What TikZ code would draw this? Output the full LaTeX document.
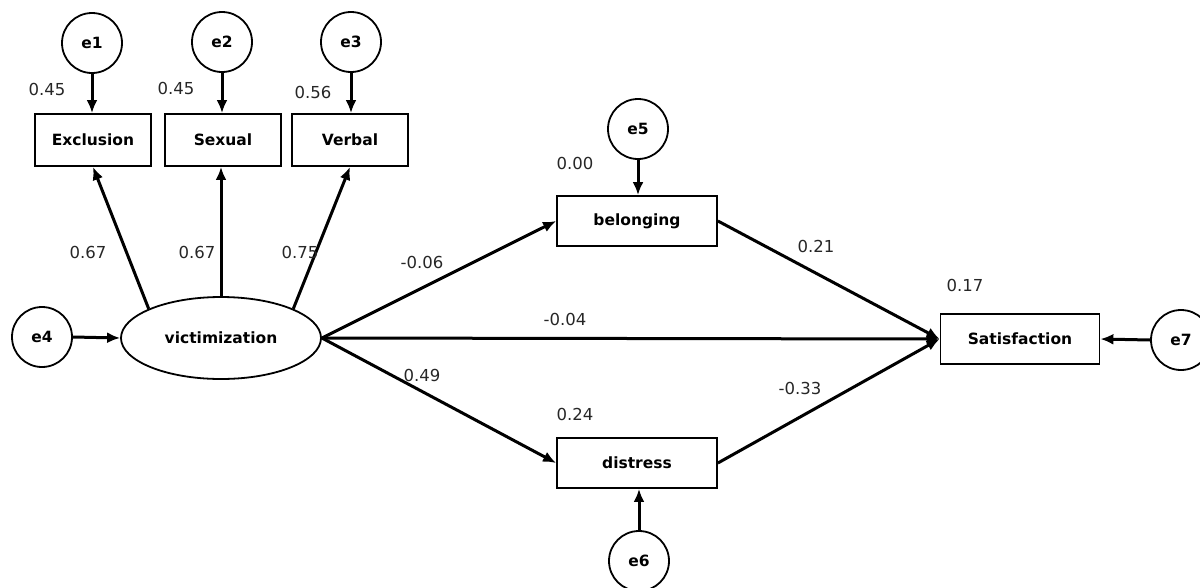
\documentclass[tikz,border=0pt]{standalone}
\usepackage{fontspec}
\setmainfont{DejaVu Sans}
\usetikzlibrary{arrows.meta,shapes.geometric}
\begin{document}
\begin{tikzpicture}[x=1pt,y=-1pt,
  lbl/.style={font=\bfseries\fontsize{15.5}{18}\selectfont},
  errc/.style={circle,draw,line width=1.8pt,minimum size=60pt,inner sep=0pt,lbl},
  obs/.style={rectangle,draw,line width=1.8pt,minimum width=116pt,minimum height=52pt,inner sep=0pt,lbl},
  wide/.style={obs,minimum width=160pt,minimum height=50pt},
  lat/.style={ellipse,draw,line width=1.8pt,minimum width=200pt,minimum height=82pt,inner sep=0pt,lbl},
  pth/.style={line width=3pt,-{Latex[length=13pt,width=11pt]}},
  coef/.style={inner sep=0pt,font=\fontsize{16.5}{19}\selectfont,text=black!85}]
\useasboundingbox (0,0) rectangle (1200,587);
% nodes
\node[errc] (e1) at (92,43) {e1};
\node[errc] (e2) at (222,42) {e2};
\node[errc] (e3) at (351,42) {e3};
\node[obs] (exc) at (93,140) {Exclusion};
\node[obs] (sex) at (223,140) {Sexual};
\node[obs] (ver) at (350,140) {Verbal};
\node[errc] (e4) at (42,337) {e4};
\node[lat] (vic) at (221,338) {victimization};
\node[errc] (e5) at (638,129) {e5};
\node[wide] (bel) at (637,221) {belonging};
\node[wide] (dis) at (637,463) {distress};
\node[errc] (e6) at (639,561) {e6};
\node[wide,minimum width=159pt] (sat) at (1020,339) {Satisfaction};
\node[errc] (e7) at (1181,340) {e7};
% connectors
\draw[pth] (e1.south) -- (e1.south |- exc.north);
\draw[pth] (e2.south) -- (e2.south |- sex.north);
\draw[pth] (e3.south) -- (e3.south |- ver.north);
\draw[pth] (e4.east) -- (vic.west);
\draw[pth] (vic.158) -- (exc.south);
\draw[pth] (vic.north) -- (vic.north |- sex.south);
\draw[pth] (vic.22) -- (ver.south);
\draw[pth] (vic.east) -- (bel.west);
\draw[pth] (vic.east) -- (sat.west);
\draw[pth] (vic.east) -- (dis.west);
\draw[pth] (bel.east) -- (sat.west);
\draw[pth] (dis.east) -- (sat.west);
\draw[pth] (e5.south) -- (e5.south |- bel.north);
\draw[pth] (e6.north) -- (e6.north |- dis.south);
\draw[pth] (e7.west) -- (sat.east);
% coefficients
\node[coef] (c1) at (47,89) {0.45};
\node[coef] (c2) at (176,88) {0.45};
\node[coef] (c3) at (313,92) {0.56};
\node[coef] (c4) at (88,252) {0.67};
\node[coef] (c5) at (197,252) {0.67};
\node[coef] (c6) at (300,252) {0.75};
\node[coef] (c7) at (422,262) {-0.06};
\node[coef] (c8) at (565,319) {-0.04};
\node[coef] (c9) at (422,375) {0.49};
\node[coef] (c10) at (575,163) {0.00};
\node[coef] (c11) at (575,414) {0.24};
\node[coef] (c12) at (816,246) {0.21};
\node[coef] (c13) at (800,388) {-0.33};
\node[coef] (c14) at (965,285) {0.17};
\end{tikzpicture}
\end{document}
